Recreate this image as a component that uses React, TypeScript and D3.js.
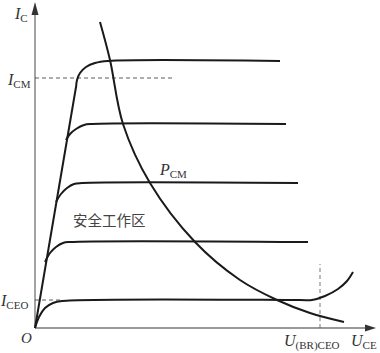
import React from 'react';
import * as d3 from 'd3';

// output characteristic curves, [U_CE, I_C] in arbitrary units
const saturationLine: [number, number][] = [[0, 0], [4.1, 24.1]];
const curveTop: [number, number][] = [[4.1, 24.0], [4.2, 24.8], [4.5, 25.5], [5.1, 26.1], [6.0, 26.5], [7.3, 26.7], [24.5, 26.7]];
const curve2: [number, number][] = [[3.1, 18.8], [3.5, 19.4], [4.1, 19.9], [4.9, 20.3], [5.7, 20.4], [25.1, 20.4]];
const curve3: [number, number][] = [[2.1, 12.6], [2.6, 13.4], [3.2, 14.0], [3.9, 14.4], [4.7, 14.5], [26.3, 14.5]];
const curve4: [number, number][] = [[1.0, 6.6], [1.5, 7.5], [2.1, 8.1], [2.8, 8.5], [3.5, 8.6], [27.3, 8.6]];
const curveBottom: [number, number][] = [[0, 0], [0.4, 1.1], [1.0, 2.0], [1.8, 2.5], [2.7, 2.7], [26.5, 2.8], [27.7, 2.8], [29.0, 3.2], [30.3, 3.9], [31.2, 4.7], [31.8, 5.6]];
const pcmCurve: [number, number][] = [[6.5, 30.6], [7.5, 26.8], [8.8, 20.4], [11.5, 14.5], [16.0, 8.6], [20.5, 4.8], [24.2, 2.8], [27.5, 1.5], [30.9, 0.6]];

const iCM = 25;
const iCEO = 2.8;
const uBRCEO = 28.5;

const width = 380;
const height = 353;

const App: React.FC = () => {
    const x = d3.scaleLinear().domain([0, 34]).range([35, 375]);
    const y = d3.scaleLinear().domain([0, 32.5]).range([328, 3]);

    const line = d3
        .line<[number, number]>()
        .x((d) => x(d[0]))
        .y((d) => y(d[1]))
        .curve(d3.curveCatmullRom.alpha(0.5));

    const curves = [curveTop, curve2, curve3, curve4, curveBottom];
    const serif = '"Liberation Serif", "DejaVu Serif", serif';
    const textColor = '#333';

    return (
        <svg width={width} height={height} style={{ position: 'absolute', left: 0, top: 0 }}>
            {/* axes */}
            <line x1={x(0)} y1={y(0)} x2={x(0)} y2={y(32.2)} stroke="#999" strokeWidth={1.8} />
            <line x1={x(0)} y1={y(0)} x2={x(33.7)} y2={y(0)} stroke="#999" strokeWidth={1.8} />
            <path d={`M${x(0) - 3.5},${y(31.3)} L${x(0)},${y(32.5) - 1} L${x(0) + 3.5},${y(31.3)} Z`} fill="#333" />
            <path d={`M${x(33.0)},${y(0) - 3.5} L${x(34) + 1},${y(0)} L${x(33.0)},${y(0) + 3.5} Z`} fill="#333" />

            {/* dashed guides */}
            <line x1={x(0)} y1={y(iCM)} x2={x(13.7)} y2={y(iCM)} stroke="#333" strokeWidth={0.8} strokeDasharray="4,3" />
            <line x1={x(0)} y1={y(iCEO)} x2={x(2.6)} y2={y(iCEO)} stroke="#333" strokeWidth={0.8} strokeDasharray="4,3" />
            <line x1={x(uBRCEO)} y1={y(0)} x2={x(uBRCEO)} y2={y(6.4)} stroke="#555" strokeWidth={0.8} strokeDasharray="4,3" />

            {/* characteristic curves */}
            <path d={line(saturationLine) || ''} fill="none" stroke="#1a1a1a" strokeWidth={2} />
            {curves.map((c, i) => (
                <path key={i} d={line(c) || ''} fill="none" stroke="#1a1a1a" strokeWidth={2} />
            ))}
            <path d={line(pcmCurve) || ''} fill="none" stroke="#1a1a1a" strokeWidth={2} />

            {/* labels */}
            <g fontFamily={serif} fill={textColor}>
                <text x={15} y={19} fontSize={16}>
                    <tspan fontStyle="italic">I</tspan>
                    <tspan fontSize={11} dy={3}>C</tspan>
                </text>
                <text x={8} y={y(iCM) + 7} fontSize={16}>
                    <tspan fontStyle="italic">I</tspan>
                    <tspan fontSize={11} dy={3}>CM</tspan>
                </text>
                <text x={1} y={y(iCEO) + 6} fontSize={16}>
                    <tspan fontStyle="italic">I</tspan>
                    <tspan fontSize={11} dy={3}>CEO</tspan>
                </text>
                <text x={21} y={343} fontSize={15} fontStyle="italic">O</text>
                <text x={160} y={175} fontSize={16}>
                    <tspan fontStyle="italic">P</tspan>
                    <tspan fontSize={11} dy={3}>CM</tspan>
                </text>
                <text x={x(uBRCEO) - 36} y={346} fontSize={16}>
                    <tspan fontStyle="italic">U</tspan>
                    <tspan fontSize={11} dy={3}>(BR)CEO</tspan>
                </text>
                <text x={351} y={346} fontSize={16}>
                    <tspan fontStyle="italic">U</tspan>
                    <tspan fontSize={11} dy={3}>CE</tspan>
                </text>
            </g>
            <text x={73} y={226} fontSize={14.5} fill="#444" fontFamily='"Noto Sans CJK SC", sans-serif'>
                安全工作区
            </text>
        </svg>
    );
};

export default App;
